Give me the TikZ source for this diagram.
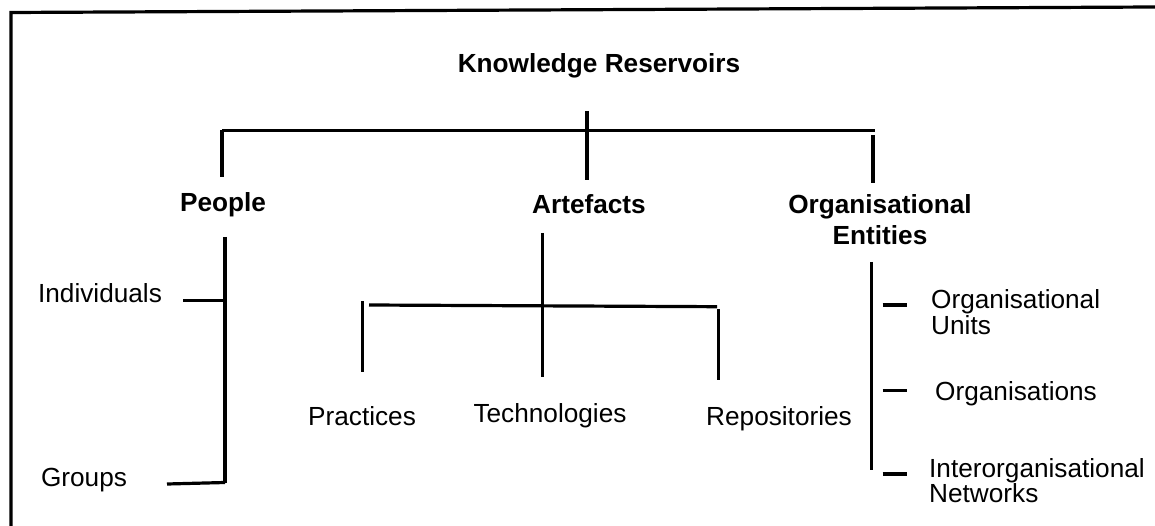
\documentclass[tikz,border=0pt]{standalone}
\usepackage{fontspec}
\setmainfont{Liberation Sans}
\begin{document}
\begin{tikzpicture}[x=1pt,y=-1pt,
  txt/.style={inner sep=0pt,anchor=base,font=\fontsize{26.2}{26}\selectfont},
  head/.style={txt,font=\bfseries\fontsize{26.2}{31}\selectfont},
  bar/.style={line width=3.2pt}]
\useasboundingbox (0,0) rectangle (1155,526);
\fill[white] (0,0) rectangle (1155,526);

% outer frame (top and left sides)
\draw[bar] (1155,7) -- (11,12.5) -- (11,526);

% headings (multi-line nodes sit on the baseline of their last line)
\node[head] (kr) at (599,73) {Knowledge Reservoirs};
\node[head] (people) at (223,212) {People};
\node[head] (artef) at (589,214) {Artefacts};
\node[head,align=center] (org) at (880,245) {Organisational\\Entities};

% leaf labels
\node[txt] (ind) at (100,302) {Individuals};
\node[txt] (grp) at (84,486) {Groups};
\node[txt] (prac) at (362,425) {Practices};
\node[txt] (tech) at (550,422) {Technologies};
\node[txt] (repo) at (779,425) {Repositories};
\node[txt,anchor=base west,align=left,font=\fontsize{26.2}{26}\selectfont] (ou) at (931,334) {Organisational\\Units};
\node[txt,anchor=base west] (orgs) at (935,400) {Organisations};
\node[txt,anchor=base west,align=left,font=\fontsize{26.2}{25}\selectfont] (inet) at (929,502) {Interorganisational\\Networks};

% top level branching
\coordinate (tl) at (222,130.5);
\coordinate (tr) at (875,130.5);
\draw[bar] (tl) -- (tr);
\draw[bar] (587,111) -- (587,180);
\draw[bar] (tl) -- (222,177);
\draw[bar] (873,135) -- (873,183);

% people branch
\coordinate (pt) at (225,237);
\coordinate (pb) at (225,482.5);
\draw[bar] (pt) -- (pb);
\draw[bar] (183,300.7) -- (225,300.7);
\draw[bar] (167,484) -- (pb);

% artefacts branch
\draw[bar] (542.7,233) -- (542.7,377);
\draw[bar] (369,305) -- (717,306.7);
\draw[bar] (362.7,301) -- (362.7,372);
\draw[bar] (718.7,309) -- (718.7,380);

% organisational entities branch
\draw[bar] (871.7,262) -- (871.7,470);
\draw[bar] (882.5,305) -- (907,305);
\draw[bar] (882.5,390.7) -- (907,390.7);
\draw[bar] (882.5,474) -- (907,474);
\end{tikzpicture}
\end{document}
